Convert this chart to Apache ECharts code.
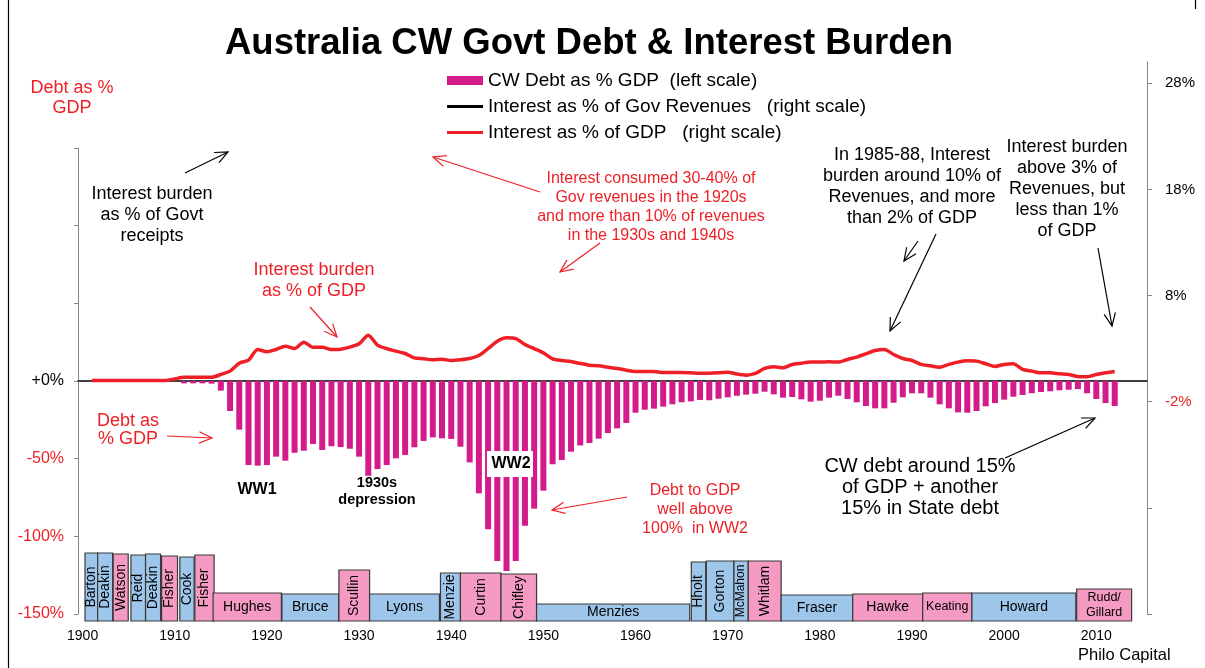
<!DOCTYPE html>
<html>
<head>
<meta charset="utf-8">
<script src="https://cdn.jsdelivr.net/npm/echarts@6/dist/echarts.min.js"></script>
<style>
  html, body { margin: 0; padding: 0; background: #fff; }
  #chart { width: 1205px; height: 668px; }
</style>
</head>
<body>
<div id="chart"></div>
<script>
// years on the category axis (axis runs on to 2015, data stops 2012)
const years = []
for (let y = 1900; y <= 2015; y++) years.push(String(y))

// CW debt as % of GDP, 1911..2012 (plotted downwards on left scale)
const debtStart = 1911
const debtPctGdp = [
  1.5, 1.5, 1.5, 1.7, 6.2, 19.3, 31.3, 54.1, 54.5,
  54.1, 48.7, 51.3, 46.2, 44.9, 40.6, 44.4, 42.0, 42.5, 43.6,
  48.7, 61.0, 56.7, 54.1, 49.8, 47.6, 42.7, 38.6, 36.3, 36.9,
  37.3, 42.3, 52.4, 72.3, 95.5, 115.9, 122.3, 115.9, 93.2, 82.2,
  70.6, 53.6, 50.9, 45.5, 41.5, 39.9, 37.1, 33.5, 30.5, 27.0,
  20.4, 18.5, 17.8, 16.5, 15.0, 13.7, 13.1, 12.2, 12.4, 11.4,
  10.5, 9.5, 8.8, 8.2, 6.9, 8.6, 10.7, 10.3, 11.8, 13.3,
  12.7, 10.7, 9.5, 11.6, 13.7, 16.1, 17.6, 17.6, 14.0, 10.5,
  7.9, 7.9, 10.7, 15.0, 17.6, 20.2, 20.4, 19.3, 16.3, 14.2,
  12.0, 10.1, 9.0, 7.9, 7.1, 6.6, 6.0, 5.6, 5.2, 7.9,
  11.6, 14.2, 16.1
]

// interest as % of GDP, 1901..2012 (right scale)
const interestStart = 1901
const interestPctGdp = [
  0, 0, 0, 0, 0, 0, 0, 0, 0,
  0.15, 0.3, 0.3, 0.3, 0.3, 0.56, 0.88, 1.63, 1.91, 2.92,
  2.7, 2.92, 3.23, 3.0, 3.61, 3.14, 3.14, 2.92, 2.95, 3.14,
  3.45, 4.27, 3.33, 3.0, 2.76, 2.54, 2.13, 2.04, 1.95, 2.0,
  1.88, 1.95, 2.07, 2.35, 3.0, 3.7, 4.02, 3.95, 3.39, 3.0,
  2.6, 2.04, 1.88, 1.79, 1.6, 1.44, 1.38, 1.25, 1.13, 0.97,
  0.85, 0.85, 0.85, 0.75, 0.75, 0.75, 0.72, 0.69, 0.69, 0.72,
  0.78, 0.6, 0.5, 0.66, 1.13, 1.29, 1.19, 1.51, 1.63, 1.73,
  1.73, 1.76, 1.73, 1.98, 2.2, 2.51, 2.82, 2.92, 2.45, 2.07,
  1.88, 1.51, 1.38, 1.25, 1.51, 1.73, 1.85, 1.82, 1.57, 1.32,
  1.51, 1.57, 1.04, 0.88, 0.72, 0.72, 0.63, 0.56, 0.38, 0.35,
  0.56, 0.72, 0.85
]

// axis ticks
const leftTicks = [-150, -100, -50, 0, 50, 100, 150]
const rightTicks = [-22, -12, -2, 8, 18, 28]
const rightLabels = [-2, 8, 18, 28]

// prime ministers along the timeline (start / end in years, L = Labor)
const pmNames = ['Barton', 'Deakin', 'Watson', 'Reid', 'Deakin', 'Fisher', 'Cook', 'Fisher',
  'Hughes', 'Bruce', 'Scullin', 'Lyons', 'Menzie', 'Curtin', 'Chifley', 'Menzies',
  'Hholt', 'Gorton', 'McMahon', 'Whitlam', 'Fraser', 'Hawke', 'Keating', 'Howard', 'Rudd/\nGillard']
const pmStart = [1900.76, 1902.13, 1903.82, 1905.74, 1907.33, 1909.07, 1911.05, 1912.68,
  1914.66, 1922.13, 1928.31, 1931.64, 1939.33, 1941.5, 1945.9, 1949.76,
  1966.55, 1968.18, 1971.18, 1972.73, 1976.3, 1984.07, 1991.66, 1997.0, 2008.37]
const pmEnd = [1902.13, 1903.76, 1905.45, 1907.33, 1908.96, 1910.8, 1912.6, 1914.77,
  1922.07, 1928.28, 1931.64, 1939.22, 1941.5, 1945.9, 1949.76, 1966.38,
  1968.11, 1971.18, 1972.73, 1976.3, 1984.07, 1991.66, 1997.0, 2008.27, 2014.33]
const pmParty = ['N', 'N', 'L', 'N', 'N', 'L', 'N', 'L',
  'L', 'N', 'L', 'N', 'N', 'L', 'L', 'N',
  'N', 'N', 'N', 'L', 'N', 'L', 'L', 'N', 'L']

// layout only: pixel top of each PM box
const pmBoxTop = [553, 553, 554, 555, 554, 556, 557, 555,
  593, 594, 570, 594, 573, 573, 574, 604,
  562, 561, 561, 561, 595, 594, 593, 593, 589]

const FONT = '"Liberation Sans", Arial, sans-serif'
const RED = '#ee1f26'
const MAGENTA = '#d41b8c'
const LINE_ICON = 'path://M0,0H36V3H0Z'

const debtSeries = years.map(y => {
  const i = +y - debtStart
  return i >= 0 && i < debtPctGdp.length ? -debtPctGdp[i] : null
})
const interestSeries = years.map(y => {
  const i = +y - interestStart
  return i >= 0 && i < interestPctGdp.length ? interestPctGdp[i] : null
})
const pmData = pmNames.map((n, i) => [i, pmStart[i], pmEnd[i]])

function arrow(x1, y1, x2, y2, color) {
  const a = Math.atan2(y2 - y1, x2 - x1), L = 14, w = 0.42
  return {
    type: 'group', silent: true,
    children: [
      { type: 'line', shape: { x1, y1, x2, y2 }, style: { stroke: color, lineWidth: 1.2 } },
      { type: 'polyline', shape: { points: [
        [x2 - L * Math.cos(a - w), y2 - L * Math.sin(a - w)], [x2, y2],
        [x2 - L * Math.cos(a + w), y2 - L * Math.sin(a + w)]] },
        style: { stroke: color, fill: null, lineWidth: 1.2 } }
    ]
  }
}
function note(x, y, text, color, size, lh, bold) {
  return {
    type: 'text', x, y, silent: true,
    style: { text, fill: color, font: (bold ? 'bold ' : '') + size + 'px ' + FONT,
      align: 'center', verticalAlign: 'top', lineHeight: lh }
  }
}

const chart = echarts.init(document.getElementById('chart'))
chart.setOption({
  animation: false,
  backgroundColor: '#fff',
  title: {
    text: 'Australia CW Govt Debt & Interest Burden',
    left: 220, top: 20,
    textStyle: { fontFamily: FONT, fontSize: 36.5, fontWeight: 'bold', color: '#000' }
  },
  legend: {
    orient: 'vertical', left: 442, top: 66, itemWidth: 36, itemHeight: 9, itemGap: 7,
    textStyle: { fontFamily: FONT, fontSize: 19, color: '#000' },
    data: [
      { name: 'CW Debt as % GDP  (left scale)', icon: 'rect' },
      { name: 'Interest as % of Gov Revenues   (right scale)', icon: LINE_ICON },
      { name: 'Interest as % of GDP   (right scale)', icon: LINE_ICON }
    ]
  },
  grid: [
    { left: 78, right: 58, top: 148, bottom: 54 },
    { left: 78, right: 58, top: 62, bottom: 54 }
  ],
  xAxis: [
    {
      gridIndex: 0, type: 'category', data: years,
      axisLine: { onZero: true, lineStyle: { color: '#404040', width: 2 } },
      axisTick: { interval: 9, length: 4, lineStyle: { color: '#a6a6a6' } },
      axisLabel: { show: false }
    },
    {
      gridIndex: 1, type: 'category', data: years, position: 'bottom',
      axisLine: { show: false, onZero: false }, axisTick: { show: false },
      axisLabel: { interval: 9, margin: 15, fontFamily: FONT, fontSize: 14, color: '#000' }
    },
    { gridIndex: 0, type: 'value', min: 1900, max: 2016, show: false }
  ],
  yAxis: [
    {
      gridIndex: 0, position: 'left', min: -150, max: 150,
      splitLine: { show: false },
      axisLine: { show: true, lineStyle: { color: '#868686' } },
      axisTick: { show: true, length: 4, customValues: leftTicks, lineStyle: { color: '#868686' } },
      axisLabel: {
        margin: 14, fontFamily: FONT, fontSize: 16,
        customValues: leftTicks.filter(v => v <= 0),
        formatter: v => v === 0 ? '+0%' : v + '%',
        color: v => v < 0 ? RED : '#000'
      }
    },
    {
      gridIndex: 1, position: 'right', min: -22, max: 30,
      splitLine: { show: false },
      axisLine: { show: true, lineStyle: { color: '#868686' } },
      axisTick: { show: true, length: 5, customValues: rightTicks, lineStyle: { color: '#868686' } },
      axisLabel: {
        margin: 18, fontFamily: FONT, fontSize: 15, customValues: rightLabels,
        formatter: v => v + '%',
        color: v => v < 0 ? RED : '#000'
      }
    }
  ],
  series: [
    {
      name: 'CW Debt as % GDP  (left scale)', type: 'bar',
      xAxisIndex: 0, yAxisIndex: 0, data: debtSeries, barWidth: 6,
      itemStyle: { color: MAGENTA }
    },
    {
      name: 'Interest as % of Gov Revenues   (right scale)', type: 'line',
      xAxisIndex: 1, yAxisIndex: 1, data: [], symbol: 'none',
      lineStyle: { color: '#000', width: 3.5 }, itemStyle: { color: '#000' }
    },
    {
      name: 'Interest as % of GDP   (right scale)', type: 'line',
      xAxisIndex: 1, yAxisIndex: 1, data: interestSeries, symbol: 'none', smooth: 0.25,
      lineStyle: { color: RED, width: 3.5, join: 'round' }, itemStyle: { color: RED }, z: 5
    },
    {
      type: 'custom', xAxisIndex: 2, yAxisIndex: 0, data: pmData, z: 6, silent: true,
      renderItem(params, api) {
        const i = api.value(0)
        const x0 = api.coord([api.value(1), 0])[0]
        const x1 = api.coord([api.value(2), 0])[0]
        const top = pmBoxTop[i], bottom = 621
        const tall = bottom - top > 35
        const name = pmNames[i]
        let size = 14
        if (name === 'McMahon') size = 12
        if (name === 'Keating' || name.indexOf('Rudd') === 0) size = 12.5
        return {
          type: 'group',
          children: [
            { type: 'rect', shape: { x: x0, y: top, width: x1 - x0, height: bottom - top },
              style: { fill: pmParty[i] === 'L' ? '#f59ac3' : '#9dc6ea', stroke: '#3a3a3a', lineWidth: 1.2 } },
            { type: 'text', x: (x0 + x1) / 2, y: (top + bottom) / 2, rotation: tall ? Math.PI / 2 : 0,
              style: { text: name, fill: '#000', font: size + 'px ' + FONT,
                align: 'center', verticalAlign: 'middle', lineHeight: 15 } }
          ]
        }
      }
    }
  ],
  graphic: [
    { type: 'line', shape: { x1: 8.5, y1: 0, x2: 8.5, y2: 668 }, style: { stroke: '#000', lineWidth: 1.2 }, silent: true },
    { type: 'line', shape: { x1: 1195.5, y1: 0, x2: 1195.5, y2: 9 }, style: { stroke: '#000', lineWidth: 1.2 }, silent: true },
    note(72, 78, 'Debt as %\nGDP', RED, 18, 20),
    note(152, 184, 'Interest burden\nas % of Govt\nreceipts', '#000', 18, 21),
    arrow(185, 173, 228, 152, '#000'),
    note(314, 260, 'Interest burden\nas % of GDP', RED, 18, 21),
    arrow(310, 307, 337, 337, RED),
    note(651, 169, 'Interest consumed 30-40% of\nGov revenues in the 1920s\nand more than 10% of revenues\nin the 1930s and 1940s', RED, 16, 19),
    arrow(540, 192, 433, 157, RED),
    arrow(600, 243, 560, 272, RED),
    note(912, 145, 'In 1985-88, Interest\nburden around 10% of\nRevenues, and more\nthan 2% of GDP', '#000', 18, 21),
    arrow(918, 241, 904, 261, '#000'),
    arrow(936, 234, 890, 331, '#000'),
    note(1067, 137, 'Interest burden\nabove 3% of\nRevenues, but\nless than 1%\nof GDP', '#000', 18, 21),
    arrow(1098, 248, 1112, 326, '#000'),
    note(128, 412, 'Debt as\n% GDP', RED, 18, 18),
    arrow(167, 436, 212, 438, RED),
    note(257, 481, 'WW1', '#000', 16, 18, true),
    note(377, 474, '1930s\ndepression', '#000', 14.5, 17, true),
    { type: 'rect', shape: { x: 487, y: 451, width: 46, height: 26 }, style: { fill: '#fff' }, z: 10, silent: true },
    Object.assign(note(511, 455, 'WW2', '#000', 16, 18, true), { z: 11 }),
    note(695, 481, 'Debt to GDP\nwell above\n100%  in WW2', RED, 16, 19),
    arrow(627, 497, 552, 510, RED),
    note(920, 456, 'CW debt around 15%\nof GDP + another\n15% in State debt', '#000', 20, 21),
    arrow(1005, 458, 1095, 418, '#000'),
    { type: 'text', x: 1078, y: 647, silent: true,
      style: { text: 'Philo Capital', fill: '#000', font: '16.5px ' + FONT } }
  ]
})
</script>
</body>
</html>
